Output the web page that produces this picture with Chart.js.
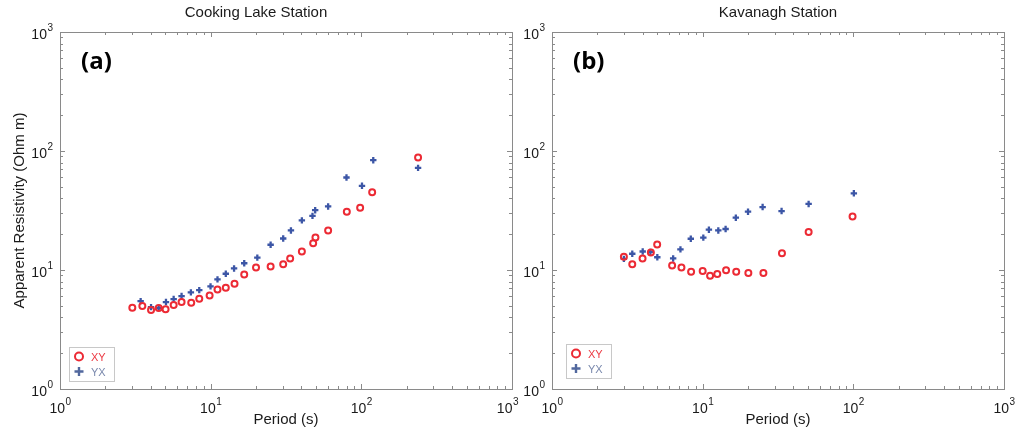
<!DOCTYPE html>
<html>
<head>
<meta charset="utf-8">
<title>Apparent resistivity</title>
<script src="https://cdn.jsdelivr.net/npm/chart.js@4.4.1/dist/chart.umd.min.js"></script>
<style>
  body { margin: 0; background: #fff; }
  #wrap { position: relative; width: 1018px; height: 431px; }
  #panelA { position: absolute; left: 0; top: 0; }
  #panelB { position: absolute; left: 520px; top: 0; }
</style>
</head>
<body>
<div id="wrap">
  <canvas id="panelA" width="520" height="431"></canvas>
  <canvas id="panelB" width="498" height="431"></canvas>
</div>
<script>
// Cooking Lake station, period (s) and apparent resistivity (ohm m)
const cookingPeriodXY = [3.02, 3.52, 4.02, 4.52, 5.02, 5.68, 6.41, 7.43, 8.40, 9.84, 11.1, 12.6, 14.4, 16.7, 20.0, 25.0, 30.3, 33.7, 40.3, 47.9, 49.6, 60.2, 80.1, 98.2, 118, 238];
const cookingRhoXY = [4.82, 4.98, 4.61, 4.79, 4.67, 5.08, 5.38, 5.31, 5.74, 6.12, 6.87, 7.09, 7.66, 9.18, 10.5, 10.7, 11.2, 12.5, 14.3, 16.8, 18.8, 21.5, 30.8, 33.3, 45.1, 88.1];
const cookingPeriodYX = [3.43, 4.02, 4.52, 5.05, 5.68, 6.41, 7.39, 8.40, 9.98, 11.1, 12.6, 14.3, 16.7, 20.4, 25.0, 30.3, 34.1, 40.3, 47.4, 49.4, 60.2, 79.7, 101, 120, 238];
const cookingRhoYX = [5.48, 4.88, 4.79, 5.38, 5.70, 6.04, 6.48, 6.78, 7.28, 8.34, 9.30, 10.3, 11.4, 12.7, 16.3, 18.4, 21.5, 26.1, 28.5, 31.8, 34.2, 59.9, 51.0, 83.7, 72.1];

// Kavanagh station
const kavanaghPeriodXY = [3.00, 3.41, 3.99, 4.53, 4.99, 6.27, 7.23, 8.38, 10.0, 11.2, 12.5, 14.3, 16.7, 20.1, 25.3, 33.6, 50.5, 98.8];
const kavanaghRhoXY = [12.9, 11.2, 12.5, 14.0, 16.4, 10.9, 10.5, 9.68, 9.81, 8.96, 9.25, 9.94, 9.68, 9.43, 9.43, 13.8, 20.9, 28.1];
const kavanaghPeriodYX = [3.00, 3.41, 4.00, 4.50, 5.00, 6.37, 7.12, 8.34, 10.1, 11.0, 12.7, 14.2, 16.6, 20.0, 25.0, 33.4, 50.5, 100.8];
const kavanaghRhoYX = [12.4, 13.7, 14.3, 14.2, 12.8, 12.5, 14.9, 18.3, 18.7, 21.8, 21.5, 22.1, 27.5, 30.9, 33.8, 31.3, 35.9, 44.1];

const seriesNames = ['XY', 'YX'];
const tickExponents = [0, 1, 2, 3];

const RED = '#ec2a34';
const BLUE = '#3c56a6';
const FONT = '"Liberation Sans", Arial, Helvetica, sans-serif';

function points(xs, ys) {
  return xs.map((x, i) => ({ x: x, y: ys[i] }));
}

// matlab style box: frame, inward ticks on all sides, 10^n labels
const boxAxes = {
  id: 'boxAxes',
  beforeDatasetsDraw(chart) {
    const ctx = chart.ctx;
    const { left, right, top, bottom } = chart.chartArea;
    const sx = chart.scales.x, sy = chart.scales.y;
    ctx.save();
    ctx.strokeStyle = '#8a8a8a';
    ctx.lineWidth = 1;
    ctx.strokeRect(left + 0.5, top + 0.5, right - left, bottom - top);

    const vals = [];
    for (let e = 0; e < 3; e++) {
      for (let m = 1; m <= 9; m++) vals.push({ v: m * Math.pow(10, e), major: m === 1 });
    }
    vals.push({ v: 1000, major: true });

    ctx.beginPath();
    vals.forEach(t => {
      const len = t.major ? 5 : 3;
      const px = Math.round(sx.getPixelForValue(t.v)) + 0.5;
      ctx.moveTo(px, bottom); ctx.lineTo(px, bottom - len);
      ctx.moveTo(px, top); ctx.lineTo(px, top + len);
      const py = Math.round(sy.getPixelForValue(t.v)) + 0.5;
      ctx.moveTo(left, py); ctx.lineTo(left + len, py);
      ctx.moveTo(right, py); ctx.lineTo(right - len, py);
    });
    ctx.stroke();

    ctx.fillStyle = '#1a1a1a';
    ctx.textBaseline = 'middle';
    ctx.textAlign = 'left';
    tickExponents.forEach(e => {
      const v = Math.pow(10, e);
      ctx.font = '14px ' + FONT;
      const w1 = ctx.measureText('10').width;
      ctx.font = '10px ' + FONT;
      const w2 = ctx.measureText(String(e)).width;

      const px = sx.getPixelForValue(v);
      // keep the last label inside the canvas
      const x0 = Math.min(px - (w1 + w2) / 2, chart.width - 2 - w1 - w2);
      ctx.font = '14px ' + FONT;
      ctx.fillText('10', x0, bottom + 20);
      ctx.font = '10px ' + FONT;
      ctx.fillText(String(e), x0 + w1 + 0.5, bottom + 13);

      const py = sy.getPixelForValue(v);
      const xr = left - 7;
      ctx.font = '14px ' + FONT;
      ctx.fillText('10', xr - w2 - w1 - 0.5, py + 3);
      ctx.font = '10px ' + FONT;
      ctx.fillText(String(e), xr - w2, py - 4);
    });
    ctx.restore();
  },
  afterDraw(chart, args, opts) {
    const ctx = chart.ctx;
    const { left, bottom, top } = chart.chartArea;
    ctx.save();

    // panel letter
    ctx.fillStyle = '#000';
    ctx.font = 'bold 24px "Open Sans", ' + FONT;
    ctx.textBaseline = 'middle';
    ctx.textAlign = 'left';
    ctx.fillText(opts.letter, left + 21, top + 30);

    // legend box
    const bx = left + opts.legendX, by = bottom - opts.legendY;
    ctx.fillStyle = '#fff';
    ctx.fillRect(bx + 0.5, by + 0.5, 45, 34);
    ctx.strokeStyle = '#c8c8c8';
    ctx.lineWidth = 1;
    ctx.strokeRect(bx + 0.5, by + 0.5, 45, 34);

    const textColors = ['#ec3a44', '#7a89ad'];
    chart.data.datasets.forEach((ds, i) => {
      const cy = by + 9.5 + i * 15;
      const cx = bx + 10;
      ctx.lineWidth = 2;
      ctx.strokeStyle = i === 0 ? RED : '#52689e';
      ctx.beginPath();
      if (ds.pointStyle === 'circle') {
        ctx.arc(cx, cy, 4, 0, Math.PI * 2);
      } else {
        ctx.lineWidth = 2.4;
        ctx.moveTo(cx - 4.5, cy); ctx.lineTo(cx + 4.5, cy);
        ctx.moveTo(cx, cy - 4.5); ctx.lineTo(cx, cy + 4.5);
      }
      ctx.stroke();
      ctx.fillStyle = textColors[i];
      ctx.font = '11px ' + FONT;
      ctx.fillText(ds.label, bx + 22, cy + 1);
    });
    ctx.restore();
  }
};

function makePanel(canvasId, title, xy, yx, panel) {
  return new Chart(document.getElementById(canvasId), {
    type: 'scatter',
    data: {
      datasets: [
        {
          label: seriesNames[0],
          data: xy,
          pointStyle: 'circle',
          pointRadius: 3,
          pointBorderWidth: 2,
          borderColor: RED,
          backgroundColor: 'rgba(0,0,0,0)'
        },
        {
          label: seriesNames[1],
          data: yx,
          pointStyle: 'cross',
          pointRadius: 3.2,
          pointBorderWidth: 2.3,
          borderColor: BLUE,
          backgroundColor: BLUE
        }
      ]
    },
    options: {
      responsive: false,
      animation: false,
      events: [],
      layout: { padding: { left: panel.padLeft, right: panel.padRight, top: 0, bottom: 0 } },
      plugins: {
        legend: { display: false },
        tooltip: { enabled: false },
        title: {
          display: true,
          text: title,
          color: '#1a1a1a',
          font: { family: FONT, size: 15, weight: 'normal' },
          padding: { top: 4, bottom: 10 }
        },
        boxAxes: panel
      },
      scales: {
        x: {
          type: 'logarithmic',
          min: 1,
          max: 1000,
          grid: { display: false, drawTicks: false },
          border: { display: false },
          ticks: { display: false },
          title: {
            display: true,
            text: 'Period (s)',
            color: '#1a1a1a',
            font: { family: FONT, size: 15 },
            padding: { top: 22, bottom: 2 }
          }
        },
        y: {
          type: 'logarithmic',
          min: 1,
          max: 1000,
          grid: { display: false, drawTicks: false },
          border: { display: false },
          ticks: { display: false },
          title: {
            display: panel.yTitle,
            text: 'Apparent Resistivity (Ohm m)',
            color: '#1a1a1a',
            font: { family: FONT, size: 15 },
            padding: { top: 11, bottom: 31 }
          }
        }
      }
    },
    plugins: [boxAxes]
  });
}

makePanel('panelA', 'Cooking Lake Station',
  points(cookingPeriodXY, cookingRhoXY), points(cookingPeriodYX, cookingRhoYX),
  { letter: '(a)', legendX: 9, legendY: 42, padLeft: 0, padRight: 8, yTitle: true });

makePanel('panelB', 'Kavanagh Station',
  points(kavanaghPeriodXY, kavanaghRhoXY), points(kavanaghPeriodYX, kavanaghRhoYX),
  { letter: '(b)', legendX: 14, legendY: 45, padLeft: 32, padRight: 14, yTitle: false });
</script>
</body>
</html>
